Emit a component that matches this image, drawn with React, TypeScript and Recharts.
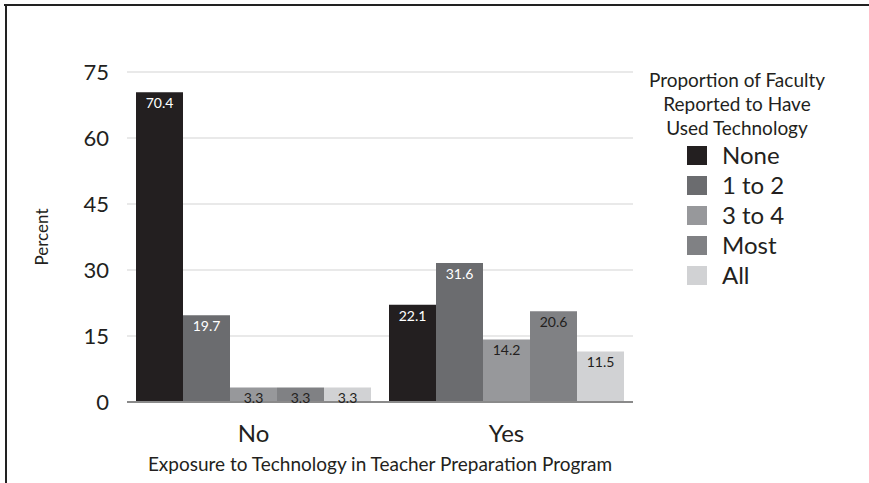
import React from 'react';
import { BarChart, Bar, XAxis, YAxis, CartesianGrid, Legend, LabelList, Label } from 'recharts';

const categories = ['No', 'Yes'];
const seriesNames = ['None', '1 to 2', '3 to 4', 'Most', 'All'];
const noneValues = [70.4, 22.1];
const oneToTwoValues = [19.7, 31.6];
const threeToFourValues = [3.3, 14.2];
const mostValues = [3.3, 20.6];
const allValues = [3.3, 11.5];
const yTicks = [0, 15, 30, 45, 60, 75];
const legendTitle = ['Proportion of Faculty', 'Reported to Have', 'Used Technology'];
const xTitle = 'Exposure to Technology in Teacher Preparation Program';
const yTitle = 'Percent';

const seriesValues = [noneValues, oneToTwoValues, threeToFourValues, mostValues, allValues];
const colors = ['#231f20', '#6b6c6f', '#97989b', '#808184', '#d1d2d4'];
const labelColors = ['#ffffff', '#ffffff', '#231f20', '#231f20', '#231f20'];
const FONT = 'Lato, "Open Sans", sans-serif';

const data = categories.map((c, i) => {
  const row: any = { category: c };
  seriesValues.forEach((vals, k) => {
    row['s' + k] = vals[i];
  });
  return row;
});

const LegendContent = () => {
  return (
    <div style={{ fontFamily: FONT, color: '#231f20' }}>
      {legendTitle.map((t) => (
        <div key={t} style={{ textAlign: 'center', fontSize: 19, lineHeight: '24px', whiteSpace: 'nowrap' }}>{t}</div>
      ))}
      {seriesNames.map((name, k) => (
        <div key={name} style={{ display: 'flex', alignItems: 'center', height: 30, paddingLeft: 60 }}>
          <div style={{ width: 20, height: 19, background: colors[k], marginRight: 15 }} />
          <span style={{ fontSize: 24, lineHeight: '30px' }}>{name}</span>
        </div>
      ))}
    </div>
  );
};

const YTitle = (props: any) => {
  const vb = props.viewBox || { x: 0, y: 0, width: 0, height: 0 };
  const cx = vb.x + 44;
  const cy = vb.y + vb.height / 2;
  return (
    <text x={cx} y={cy} transform={`rotate(-90, ${cx}, ${cy})`} textAnchor="middle" dominantBaseline="middle"
      style={{ fontFamily: FONT, fontSize: 17, fill: '#231f20' }}>{yTitle}</text>
  );
};

export default function App() {
  return (
    <div style={{ position: 'absolute', left: 0, top: 0, width: 869, height: 483, background: '#fff', overflow: 'hidden' }}>
      <div style={{ position: 'absolute', left: 0, top: 0 }}>
        <BarChart width={869} height={483} data={data}
          margin={{ top: 72, right: 236, bottom: 0, left: 0 }}
          barCategoryGap={9} barGap={0}>
          <CartesianGrid vertical={false} stroke="#d4d4d4" strokeWidth={1.2} />
          <XAxis dataKey="category" height={81} tickLine={false} tickSize={0} tickMargin={23}
            axisLine={{ stroke: '#8a8a8a', strokeWidth: 2 }}
            tick={{ fontFamily: FONT, fontSize: 24, fill: '#231f20' }}>
            <Label value={xTitle} position="insideBottom" offset={12}
              style={{ fontFamily: FONT, fontSize: 19, fill: '#231f20' }} />
          </XAxis>
          <YAxis width={127} domain={[0, 75]} ticks={yTicks} interval={0} axisLine={false} tickLine={false}
            tickSize={0} tickMargin={18}
            tick={{ fontFamily: FONT, fontSize: 22, fill: '#231f20' }}>
            <Label content={<YTitle />} />
          </YAxis>
          <Legend layout="vertical" align="center" verticalAlign="middle" content={<LegendContent />}
            wrapperStyle={{ position: 'absolute', left: 627, top: 68, width: 220 }} />
          {seriesNames.map((name, k) => (
            <Bar key={name} dataKey={'s' + k} name={name} fill={colors[k]} isAnimationActive={false}>
              <LabelList dataKey={'s' + k} position="insideTop" offset={6}
                style={{ fontFamily: FONT, fontSize: 14, fill: labelColors[k] }} />
            </Bar>
          ))}
        </BarChart>
      </div>
      <div style={{ position: 'absolute', left: 4, top: 4, width: 865, height: 2, background: '#222', zIndex: 5 }} />
      <div style={{ position: 'absolute', left: 5, top: 4, height: 479, width: 2, background: '#222', zIndex: 5 }} />
    </div>
  );
}
